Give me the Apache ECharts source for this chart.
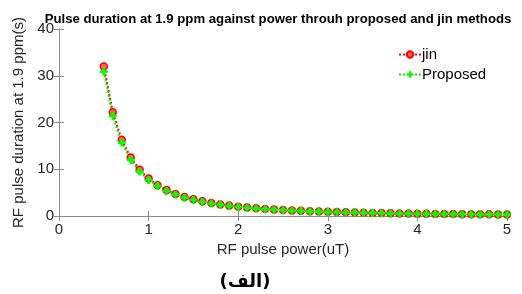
<!DOCTYPE html>
<html><head><meta charset="utf-8">
<script src="https://cdn.jsdelivr.net/npm/echarts@6/dist/echarts.min.js"></script>
<style>html,body{margin:0;padding:0;background:#fff}#c{width:522px;height:294px}</style>
</head><body><div id="c"></div>
<script>
const powers = [0.5,0.6,0.7,0.8,0.9,1.0,1.1,1.2,1.3,1.4,1.5,1.6,1.7,1.8,1.9,2.0,2.1,2.2,2.3,2.4,2.5,2.6,2.7,2.8,2.9,3.0,3.1,3.2,3.3,3.4,3.5,3.6,3.7,3.8,3.9,4.0,4.1,4.2,4.3,4.4,4.5,4.6,4.7,4.8,4.9,5.0];
const jin = [32.0,22.2,16.3,12.5,9.9,8.0,6.6,5.56,4.73,4.08,3.56,3.13,2.77,2.47,2.22,2.0,1.81,1.65,1.51,1.39,1.28,1.18,1.10,1.02,0.95,0.89,0.83,0.78,0.73,0.69,0.65,0.62,0.58,0.55,0.53,0.50,0.48,0.45,0.43,0.41,0.40,0.38,0.36,0.35,0.33,0.32];
const proposed = [30.9,21.4,15.7,12.0,9.5,7.7,6.4,5.35,4.55,3.93,3.43,3.0,2.67,2.38,2.14,1.93,1.75,1.59,1.46,1.34,1.23,1.14,1.06,0.98,0.92,0.86,0.80,0.75,0.71,0.67,0.63,0.59,0.56,0.53,0.51,0.48,0.46,0.44,0.42,0.40,0.38,0.37,0.35,0.34,0.32,0.31];
const xTicks = [0,1,2,3,4,5];
const yTicks = [0,10,20,30,40];
const titleText = 'Pulse duration at 1.9 ppm against power throuh proposed and jin methods';
const xName = 'RF pulse power(uT)';
const yName = 'RF pulse duration at 1.9 ppm(s)';
const caption = '(الف)';

const chart = echarts.init(document.getElementById('c'), null, {renderer:'canvas'});
const axisCol = '#8a8a8a';
const txtCol = '#262626';
const font = 'Liberation Sans, Arial, sans-serif';
const plus = 'path://M-1,-3H1V-1H3V1H1V3H-1V1H-3V-1H-1Z';
function pairs(ys){ return powers.map((p,i)=>[p,ys[i]]); }
chart.setOption({
  animation:false,
  title:[{text:titleText,left:273,top:8,textAlign:'center',textStyle:{fontFamily:font,fontSize:13.2,fontWeight:'bold',color:'#000'}},
         {text:caption,left:240,top:268,textAlign:'center',textStyle:{fontFamily:'DejaVu Sans, Noto Sans, sans-serif',fontSize:18,fontWeight:'bold',color:'#000'}}],
  grid:{left:59,right:15,top:29,bottom:78},
  legend:{data:['jin','Proposed'],left:393,top:42,orient:'vertical',itemGap:5,itemWidth:22,itemHeight:8,
    textStyle:{fontFamily:font,fontSize:15,color:'#000',padding:[0,0,0,-4]}},
  xAxis:[{type:'value',min:0,max:5,interval:1,position:'bottom',
    name:xName,nameLocation:'middle',nameGap:22,nameTextStyle:{fontFamily:font,fontSize:15,color:txtCol},
    axisLine:{show:true,lineStyle:{color:axisCol,width:1}},axisTick:{show:true,inside:true,length:5,lineStyle:{color:axisCol}},
    axisLabel:{fontFamily:font,fontSize:15,color:txtCol,margin:6},splitLine:{show:false}},
    {type:'value',min:0,max:5,interval:1,position:'top',
    axisLine:{show:true,lineStyle:{color:axisCol,width:1}},axisTick:{show:true,inside:true,length:5,lineStyle:{color:axisCol}},
    axisLabel:{show:false},splitLine:{show:false}}],
  yAxis:[{type:'value',min:0,max:40,interval:10,position:'left',
    name:yName,nameLocation:'middle',nameGap:28,nameTextStyle:{fontFamily:font,fontSize:15,color:txtCol},
    axisLine:{show:true,lineStyle:{color:axisCol,width:1}},axisTick:{show:true,inside:true,length:5,lineStyle:{color:axisCol}},
    axisLabel:{fontFamily:font,fontSize:15,color:txtCol,margin:5},splitLine:{show:false}},
    {type:'value',min:0,max:40,interval:10,position:'right',
    axisLine:{show:true,lineStyle:{color:axisCol,width:1}},axisTick:{show:true,inside:true,length:5,lineStyle:{color:axisCol}},
    axisLabel:{show:false},splitLine:{show:false}}],
  series:[
    {name:'jin',type:'line',data:pairs(jin),symbol:'circle',symbolSize:7,showAllSymbol:true,
     lineStyle:{color:'#ff0000',width:2,type:'dotted'},
     itemStyle:{color:'#ff6060',borderColor:'#ff0000',borderWidth:1.5}},
    {name:'Proposed',type:'line',data:pairs(proposed),symbol:plus,symbolSize:8,showAllSymbol:true,
     lineStyle:{color:'#00ee00',width:2,type:'dotted'},
     itemStyle:{color:'#00ff00',borderColor:'#00ff00',borderWidth:0}}
  ]
});
</script></body></html>
